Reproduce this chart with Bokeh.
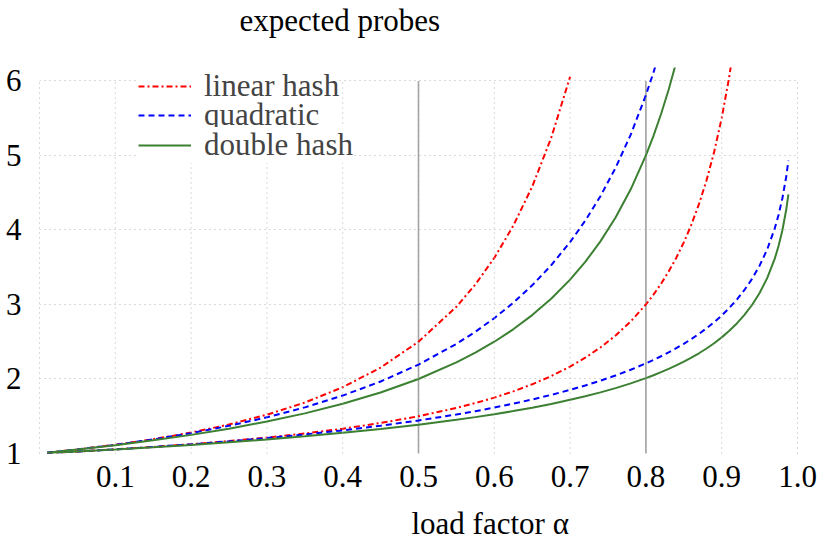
from bokeh.plotting import figure
from bokeh.models import Range1d, FixedTicker, Title, Legend, LegendItem
from bokeh.embed import file_html
from bokeh.resources import INLINE

# load factor samples (shared x values)
alpha = [0.01, 0.05, 0.10, 0.15, 0.20, 0.25, 0.30, 0.35, 0.40, 0.45, 0.50,
         0.55, 0.575, 0.60, 0.625, 0.65, 0.675, 0.70, 0.72, 0.74, 0.76, 0.78,
         0.80, 0.81, 0.82, 0.83, 0.84, 0.85, 0.86, 0.87, 0.88, 0.89, 0.90,
         0.91, 0.92, 0.93, 0.94, 0.95, 0.96, 0.97, 0.975, 0.98, 0.985, 0.988]

# expected probes, unsuccessful search (upper curves)
linear_unsucc = [1.0102, 1.0540, 1.1173, 1.1920, 1.2813, 1.3889, 1.5204, 1.6834,
                 1.8889, 2.1529, 2.5000, 2.9691, 3.2682, 3.6250, 4.0556, 4.5816,
                 5.2337, 6.0556]
quad_unsucc = [1.0102, 1.0539, 1.1165, 1.1890, 1.2731, 1.3710, 1.4852, 1.6192,
               1.7775, 1.9660, 2.1931, 2.4707, 2.6336, 2.8163, 3.0225, 3.2570,
               3.5259, 3.8373, 4.1244, 4.4532, 4.8338, 5.2796, 5.8094, 6.1139,
               6.4504]
double_unsucc = [1.0101, 1.0526, 1.1111, 1.1765, 1.2500, 1.3333, 1.4286, 1.5385,
                 1.6667, 1.8182, 2.0000, 2.2222, 2.3529, 2.5000, 2.6667, 2.8571,
                 3.0769, 3.3333, 3.5714, 3.8462, 4.1667, 4.5455, 5.0000, 5.2632,
                 5.5556, 5.8824, 6.2500]

# expected probes, successful search (lower curves)
linear_succ = [1.0051, 1.0263, 1.0556, 1.0882, 1.1250, 1.1667, 1.2143, 1.2692,
               1.3333, 1.4091, 1.5000, 1.6111, 1.6765, 1.7500, 1.8333, 1.9286,
               2.0385, 2.1667, 2.2857, 2.4231, 2.5833, 2.7727, 3.0000, 3.1316,
               3.2778, 3.4412, 3.6250, 3.8333, 4.0714, 4.3462, 4.6667, 5.0455,
               5.5000, 6.0556, 6.7500]
quad_succ = [1.0051, 1.0263, 1.0554, 1.0875, 1.1231, 1.1627, 1.2067, 1.2558,
             1.3108, 1.3728, 1.4431, 1.5235, 1.5682, 1.6163, 1.6683, 1.7248,
             1.7864, 1.8540, 1.9130, 1.9771, 2.0471, 2.1241, 2.2094, 2.2557,
             2.3048, 2.3570, 2.4126, 2.4721, 2.5361, 2.6052, 2.6803, 2.7623,
             2.8526, 2.9530, 3.0657, 3.1943, 3.3434, 3.5207, 3.7389, 4.0216,
             4.2014, 4.4220, 4.7072, 4.9289]
double_succ = [1.0050, 1.0259, 1.0536, 1.0835, 1.1157, 1.1507, 1.1889, 1.2308,
               1.2771, 1.3285, 1.3863, 1.4518, 1.4881, 1.5272, 1.5693, 1.6151,
               1.6651, 1.7200, 1.7680, 1.8204, 1.8778, 1.9412, 2.0118, 2.0503,
               2.0912, 2.1349, 2.1816, 2.2319, 2.2862, 2.3451, 2.4094, 2.4801,
               2.5584, 2.6461, 2.7454, 2.8594, 2.9930, 3.1534, 3.3530, 3.6150,
               3.7835, 3.9919, 4.2637, 4.4766]

series_labels = ["linear hash", "quadratic", "double hash"]
x_ticks = [0.1, 0.2, 0.3, 0.4, 0.5, 0.6, 0.7, 0.8, 0.9, 1.0]
x_tick_labels = ["0.1", "0.2", "0.3", "0.4", "0.5", "0.6", "0.7", "0.8", "0.9", "1.0"]
y_ticks = [1, 2, 3, 4, 5, 6]
grid_x = [0.0, 0.1, 0.2, 0.3, 0.4, 0.5, 0.6, 0.7, 0.8, 0.9, 1.0]
marked_alpha = [0.5, 0.8]

FONT = "Liberation Serif"
FS = "31px"
RED, BLUE, GREEN = "#ff0000", "#0000ff", "#3c8032"
GRID = "#b4b4b4"

p = figure(width=817, height=545, output_backend="svg", toolbar_location=None,
           x_range=Range1d(0, 1), y_range=Range1d(1, 6.18),
           min_border_left=39, min_border_right=20, min_border_top=63,
           min_border_bottom=92)
p.outline_line_color = None

for ax in (p.xaxis[0], p.yaxis[0]):
    ax.axis_line_color = None
    ax.major_tick_line_color = None
    ax.minor_tick_line_color = None
    ax.major_label_text_font = FONT
    ax.major_label_text_font_size = FS
    ax.major_label_text_color = "black"

p.xaxis.ticker = FixedTicker(ticks=x_ticks)
p.xaxis.major_label_overrides = dict(zip(x_ticks, x_tick_labels))
p.xaxis.major_label_standoff = 6
p.yaxis.ticker = FixedTicker(ticks=y_ticks)
p.yaxis.major_label_standoff = 12

p.xgrid.grid_line_color = None
p.ygrid.ticker = FixedTicker(ticks=y_ticks)
p.ygrid.grid_line_color = GRID
p.ygrid.grid_line_dash = "1 4"

# vertical dotted grid, between lowest and highest y tick
p.segment(x0=grid_x, y0=[y_ticks[0]] * len(grid_x), x1=grid_x,
          y1=[y_ticks[-1]] * len(grid_x), line_color=GRID, line_dash="1 4",
          line_width=1, level="overlay")

# grey markers at alpha = 0.5 and 0.8
p.segment(x0=marked_alpha, y0=[y_ticks[0]] * 2, x1=marked_alpha,
          y1=[y_ticks[-1]] * 2, line_color="#a0a0a0", line_width=1.6)

styles = [(RED, "6 3 2 3"), (BLUE, "6 4"), (GREEN, "solid")]
uppers = [linear_unsucc, quad_unsucc, double_unsucc]
lowers = [linear_succ, quad_succ, double_succ]
legend_rows_y = [349, 320, 290]
for (col, dash), up, lo, lab, ly in zip(styles, uppers, lowers, series_labels,
                                        legend_rows_y):
    r1 = p.line(alpha[:len(up)], up, line_color=col, line_dash=dash, line_width=2)
    p.line(alpha[:len(lo)], lo, line_color=col, line_dash=dash, line_width=2)
    leg = Legend(items=[LegendItem(label=lab, renderers=[r1])],
                 location=(99, ly), padding=0, margin=0, spacing=0,
                 glyph_width=53, glyph_height=34, label_height=34,
                 label_standoff=13, label_text_font=FONT,
                 label_text_font_size=FS, border_line_color=None,
                 background_fill_color="white", background_fill_alpha=1)
    p.add_layout(leg, "center")

# spacer + title above the frame
p.add_layout(Title(text=" ", text_font_size="10px", standoff=17), "above")
p.add_layout(Title(text="expected probes", align="left", offset=200,
                   text_font=FONT, text_font_size=FS, text_font_style="normal",
                   text_color="black", standoff=0), "above")

# spacer + x label below the axis
p.add_layout(Title(text=" ", text_font_size="10px", standoff=1), "below")
p.add_layout(Title(text="load factor α", align="left", offset=372,
                   text_font=FONT, text_font_size=FS, text_font_style="normal",
                   text_color="black", standoff=0), "below")

open("out.html", "w").write(file_html(p, INLINE))
